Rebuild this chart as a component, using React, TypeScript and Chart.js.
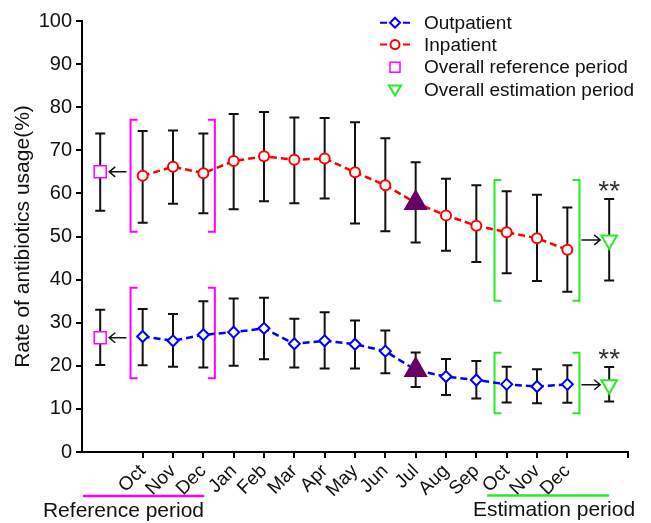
import React, { useEffect, useRef } from "react";
import { Chart, registerables } from "chart.js";

Chart.register(...registerables);

// ---- data ----
const months = ["Oct", "Nov", "Dec", "Jan", "Feb", "Mar", "Apr", "May", "Jun", "Jul", "Aug", "Sep", "Oct", "Nov", "Dec"];
const outpatient = [26.8, 25.8, 27.2, 27.8, 28.7, 25.1, 25.8, 25.0, 23.4, 19.0, 17.5, 16.7, 15.7, 15.2, 15.7];
const outUpper = [33.2, 32.0, 35.0, 35.6, 35.8, 30.9, 32.4, 30.5, 28.2, 23.1, 21.6, 21.1, 19.8, 19.2, 20.1];
const outLower = [20.1, 19.8, 19.6, 20.0, 21.5, 19.6, 19.4, 19.4, 18.3, 15.1, 13.2, 12.4, 11.5, 11.3, 11.4];
const inpatient = [64.1, 66.2, 64.7, 67.5, 68.6, 67.8, 68.1, 64.9, 61.9, 57.8, 54.9, 52.5, 51.0, 49.6, 46.9];
const inUpper = [74.5, 74.6, 73.9, 78.4, 78.9, 77.6, 77.5, 76.5, 72.8, 67.2, 63.4, 61.9, 60.5, 59.7, 56.7];
const inLower = [53.2, 57.6, 55.4, 56.3, 58.2, 57.7, 58.8, 53.0, 51.2, 48.6, 46.7, 44.1, 41.5, 39.7, 37.2];
// overall values: [inpatient, outpatient]
const refOverall = [65.0, 26.5];
const refUpper = [73.9, 33.0];
const refLower = [56.0, 20.2];
const estOverall = [49.2, 15.6];
const estUpper = [58.7, 19.7];
const estLower = [39.8, 11.7];
const yTicks = [0, 10, 20, 30, 40, 50, 60, 70, 80, 90, 100];

const JUL = 9;
const REF_X = -1.4;
const EST_X = 15.38;

const FONT = "'Liberation Sans', Arial, sans-serif";
const BLUE = "#0000ff";
const RED = "#ff0000";
const MAGENTA = "#ff00ff";
const GREEN = "#22ee22";
const PURPLE = "#660066";

const annotPlugin = {
  id: "annot",
  beforeDatasetsDraw(chart: any) {
    const { ctx, scales } = chart;
    const x = scales.x;
    const y = scales.y;
    ctx.save();
    ctx.strokeStyle = "#111";
    ctx.lineWidth = 2;
    const bar = (xv: number, lo: number, hi: number) => {
      const px = x.getPixelForValue(xv);
      const p1 = y.getPixelForValue(lo);
      const p2 = y.getPixelForValue(hi);
      ctx.beginPath();
      ctx.moveTo(px, p1);
      ctx.lineTo(px, p2);
      ctx.moveTo(px - 5, p1);
      ctx.lineTo(px + 5, p1);
      ctx.moveTo(px - 5, p2);
      ctx.lineTo(px + 5, p2);
      ctx.stroke();
    };
    months.forEach((_, i) => {
      bar(i, outLower[i], outUpper[i]);
      bar(i, inLower[i], inUpper[i]);
    });
    refOverall.forEach((_, i) => bar(REF_X, refLower[i], refUpper[i]));
    estOverall.forEach((_, i) => bar(EST_X, estLower[i], estUpper[i]));

    // brackets
    const bracket = (color: string, xl: number, xr: number, lo: number, hi: number) => {
      const l = x.getPixelForValue(xl);
      const r = x.getPixelForValue(xr);
      const t = y.getPixelForValue(hi);
      const b = y.getPixelForValue(lo);
      ctx.strokeStyle = color;
      ctx.lineWidth = 2;
      ctx.beginPath();
      ctx.moveTo(l + 7, t);
      ctx.lineTo(l, t);
      ctx.lineTo(l, b);
      ctx.lineTo(l + 7, b);
      ctx.moveTo(r - 7, t);
      ctx.lineTo(r, t);
      ctx.lineTo(r, b);
      ctx.lineTo(r - 7, b);
      ctx.stroke();
    };
    bracket(MAGENTA, -0.4, 2.38, 51.1, 77.1);
    bracket(MAGENTA, -0.4, 2.38, 17.1, 38.1);
    bracket(GREEN, 11.6, 14.4, 35.1, 63.1);
    bracket(GREEN, 11.6, 14.4, 9.0, 23.0);

    // arrows
    ctx.strokeStyle = "#111";
    ctx.lineWidth = 1.5;
    const arrow = (x1: number, x2: number, py: number) => {
      const dir = x2 > x1 ? 1 : -1;
      ctx.beginPath();
      ctx.moveTo(x1, py);
      ctx.lineTo(x2, py);
      ctx.moveTo(x2 - dir * 6, py - 5);
      ctx.lineTo(x2, py);
      ctx.lineTo(x2 - dir * 6, py + 5);
      ctx.stroke();
    };
    refOverall.forEach((v) => {
      arrow(x.getPixelForValue(-0.4) - 4, x.getPixelForValue(REF_X) + 9, y.getPixelForValue(v));
    });
    estOverall.forEach((v) => {
      arrow(x.getPixelForValue(14.4) + 2, x.getPixelForValue(EST_X) - 9, y.getPixelForValue(v));
    });
    ctx.restore();
  },
  afterDraw(chart: any) {
    const { ctx, scales } = chart;
    const x = scales.x;
    const y = scales.y;
    ctx.save();
    // significance
    ctx.fillStyle = "#333";
    ctx.font = `28px ${FONT}`;
    ctx.textAlign = "center";
    ctx.textBaseline = "alphabetic";
    estUpper.forEach((v) => {
      ctx.fillText("**", x.getPixelForValue(EST_X), y.getPixelForValue(v) + 1);
    });
    ctx.textBaseline = "middle";

    // period lines + labels
    ctx.lineWidth = 2.5;
    ctx.strokeStyle = MAGENTA;
    ctx.beginPath();
    ctx.moveTo(chart.chartArea.left + 1, 496);
    ctx.lineTo(x.getPixelForValue(2.03), 496);
    ctx.stroke();
    ctx.strokeStyle = GREEN;
    ctx.beginPath();
    ctx.moveTo(x.getPixelForValue(11.36), 495.5);
    ctx.lineTo(x.getPixelForValue(EST_X), 495.5);
    ctx.stroke();
    ctx.fillStyle = "#111";
    ctx.font = `21px ${FONT}`;
    ctx.fillText("Reference period", 123.5, 511);
    ctx.fillText("Estimation period", 554, 510);

    // legend
    const lx = 395;
    const rows = [22.7, 44.6, 67.2, 89.6];
    ctx.textAlign = "left";
    ctx.font = `19px ${FONT}`;
    const labels = ["Outpatient", "Inpatient", "Overall reference period", "Overall estimation period"];
    // dashes
    ctx.lineWidth = 2;
    [BLUE, RED].forEach((c, i) => {
      ctx.strokeStyle = c;
      ctx.beginPath();
      ctx.moveTo(380, rows[i]);
      ctx.lineTo(387, rows[i]);
      ctx.moveTo(403, rows[i]);
      ctx.lineTo(410, rows[i]);
      ctx.stroke();
    });
    // markers
    ctx.fillStyle = "#fff";
    ctx.strokeStyle = BLUE;
    ctx.lineWidth = 2;
    ctx.beginPath();
    ctx.moveTo(lx, rows[0] - 5);
    ctx.lineTo(lx + 5, rows[0]);
    ctx.lineTo(lx, rows[0] + 5);
    ctx.lineTo(lx - 5, rows[0]);
    ctx.closePath();
    ctx.fill();
    ctx.stroke();
    ctx.strokeStyle = RED;
    ctx.beginPath();
    ctx.arc(lx, rows[1], 4.5, 0, Math.PI * 2);
    ctx.fill();
    ctx.stroke();
    ctx.strokeStyle = MAGENTA;
    ctx.lineWidth = 1.5;
    ctx.strokeRect(lx - 5, rows[2] - 5, 10, 10);
    ctx.strokeStyle = GREEN;
    ctx.lineWidth = 2;
    ctx.beginPath();
    ctx.moveTo(lx - 6, rows[3] - 4);
    ctx.lineTo(lx + 6, rows[3] - 4);
    ctx.lineTo(lx, rows[3] + 6);
    ctx.closePath();
    ctx.stroke();
    ctx.fillStyle = "#111";
    labels.forEach((t, i) => ctx.fillText(t, 424, rows[i] + 1));
    ctx.restore();
  },
};

export default function App() {
  const ref = useRef<HTMLCanvasElement | null>(null);
  useEffect(() => {
    if (!ref.current) return;
    const isJul = (c: any) => c.dataIndex === JUL;
    const chart = new Chart(ref.current, {
      type: "line",
      data: {
        datasets: [
          {
            label: "Outpatient",
            data: outpatient.map((v, i) => ({ x: i, y: v })),
            borderColor: BLUE,
            borderWidth: 2.5,
            borderDash: [7, 4],
            pointStyle: (c: any) => (isJul(c) ? "triangle" : "rectRot"),
            pointRadius: (c: any) => (isJul(c) ? 12 : 5.5),
            pointBackgroundColor: (c: any) => (isJul(c) ? PURPLE : "#fff"),
            pointBorderColor: (c: any) => (isJul(c) ? PURPLE : BLUE),
            pointBorderWidth: 2,
          } as any,
          {
            label: "Inpatient",
            data: inpatient.map((v, i) => ({ x: i, y: v })),
            borderColor: RED,
            borderWidth: 2.5,
            borderDash: [7, 4],
            pointStyle: (c: any) => (isJul(c) ? "triangle" : "circle"),
            pointRadius: (c: any) => (isJul(c) ? 12 : 5),
            pointBackgroundColor: (c: any) => (isJul(c) ? PURPLE : "#fff"),
            pointBorderColor: (c: any) => (isJul(c) ? PURPLE : RED),
            pointBorderWidth: 2,
          } as any,
          {
            label: "Overall reference period",
            data: refOverall.map((v) => ({ x: REF_X, y: v })),
            showLine: false,
            pointStyle: "rect",
            pointRadius: 8.5,
            pointBackgroundColor: "#fff",
            pointBorderColor: MAGENTA,
            pointBorderWidth: 1.5,
          } as any,
          {
            label: "Overall estimation period",
            data: estOverall.map((v) => ({ x: EST_X, y: v })),
            showLine: false,
            pointStyle: "triangle",
            pointRotation: 180,
            pointRadius: 9,
            pointBackgroundColor: "#fff",
            pointBorderColor: GREEN,
            pointBorderWidth: 2,
          } as any,
        ],
      },
      options: {
        animation: false,
        responsive: false,
        layout: { padding: { top: 21, right: 23, left: 0, bottom: 0 } },
        plugins: { legend: { display: false }, tooltip: { enabled: false } },
        scales: {
          x: {
            type: "linear",
            min: -2,
            max: 16,
            afterBuildTicks: (s: any) => {
              s.ticks = [...months.map((_, i) => ({ value: i })), { value: 16 }];
            },
            afterFit: (s: any) => {
              s.height = 71;
            },
            ticks: {
              autoSkip: false,
              maxRotation: 45,
              minRotation: 45,
              padding: 2,
              color: "#111",
              font: { family: FONT, size: 19 },
              callback: (v: any) => months[v as number] ?? "",
            },
            grid: { drawOnChartArea: false, drawTicks: true, tickLength: 6, color: "#000", lineWidth: 2 },
            border: { display: true, color: "#000", width: 2 },
          },
          y: {
            type: "linear",
            min: 0,
            max: 100,
            afterBuildTicks: (s: any) => {
              s.ticks = yTicks.map((v) => ({ value: v }));
            },
            afterFit: (s: any) => {
              s.width = 82;
            },
            ticks: {
              padding: 4,
              color: "#111",
              font: { family: FONT, size: 20 },
            },
            title: {
              display: true,
              text: "Rate of antibiotics usage(%)",
              color: "#111",
              font: { family: FONT, size: 21 },
              padding: { top: 11, bottom: 0 },
            },
            grid: { drawOnChartArea: false, drawTicks: true, tickLength: 6, color: "#000", lineWidth: 2 },
            border: { display: true, color: "#000", width: 2 },
          },
        },
      },
      plugins: [annotPlugin],
    });
    return () => chart.destroy();
  }, []);
  return (
    <div style={{ position: "absolute", left: 0, top: 0, width: 651, height: 523, background: "#fff" }}>
      <canvas ref={ref} width={651} height={523} style={{ display: "block" }} />
    </div>
  );
}
